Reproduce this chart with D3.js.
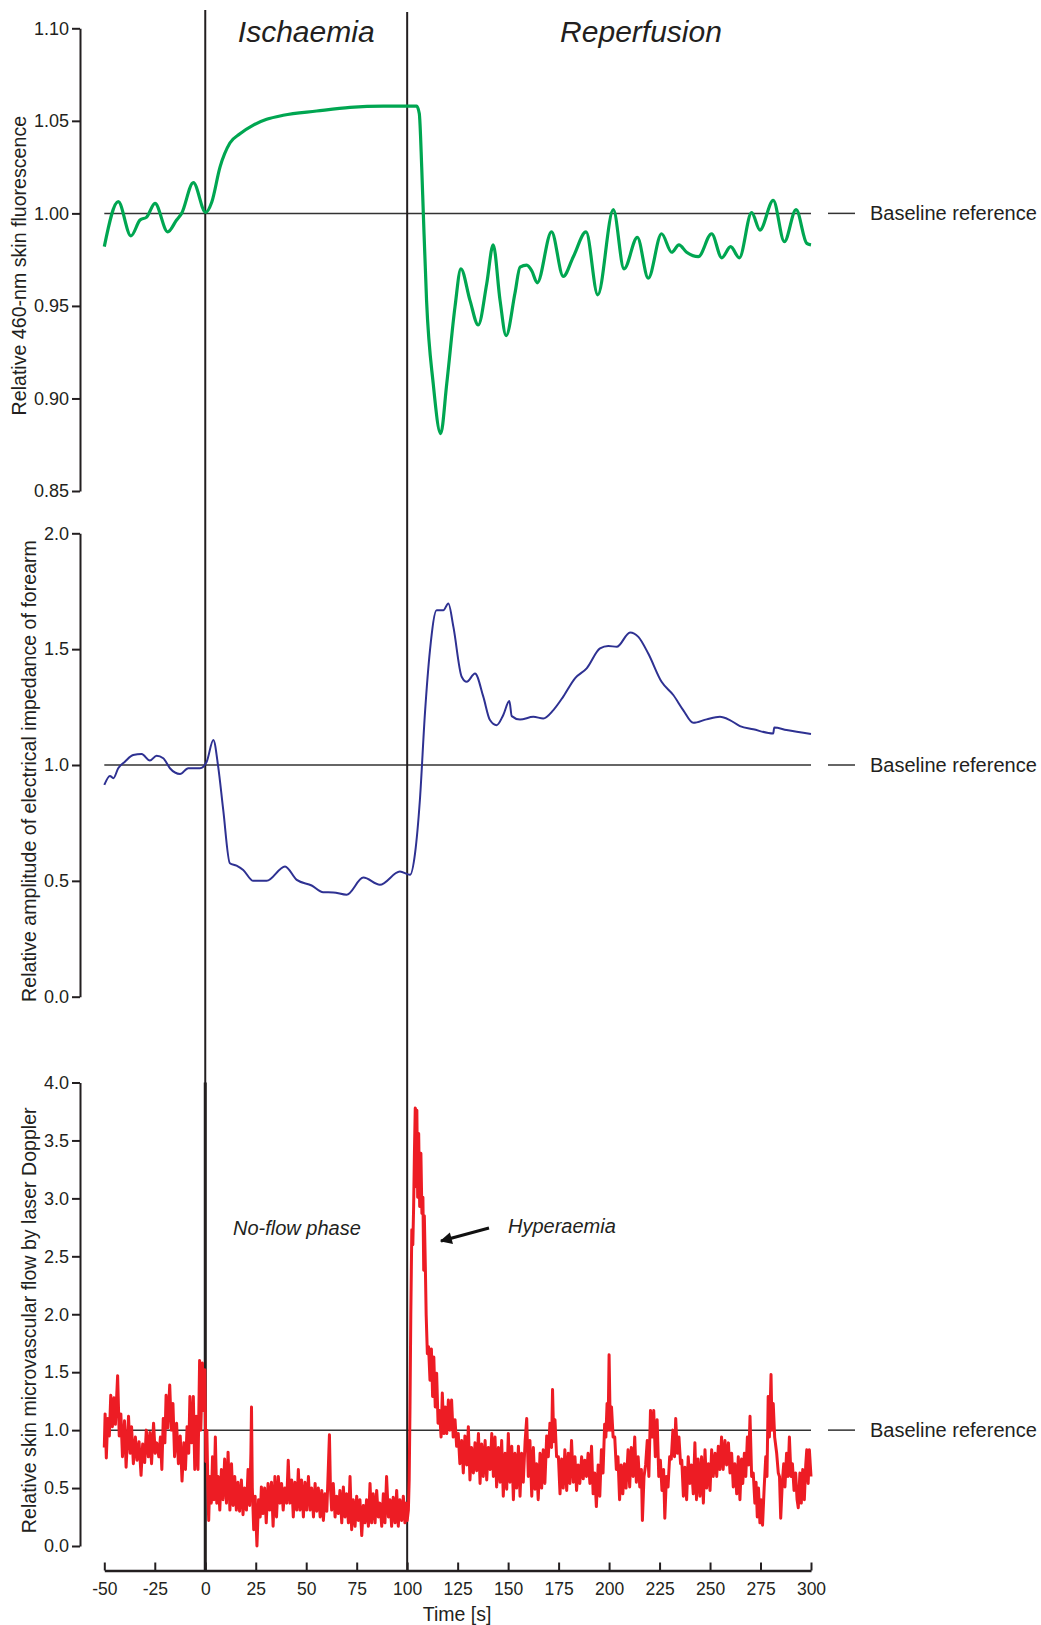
<!DOCTYPE html>
<html>
<head>
<meta charset="utf-8">
<script src="https://cdn.jsdelivr.net/npm/d3@7"></script>
<style>
  body { margin: 0; background: #fff; }
  svg text { font-family: "Liberation Sans", Arial, sans-serif; fill: #231f20; }
</style>
</head>
<body>
<div id="chart"></div>
<script>
// time axis
const timeTicks = [-50, -25, 0, 25, 50, 75, 100, 125, 150, 175, 200, 225, 250, 275, 300];
const phaseBounds = [0, 100];
const phaseNames = ["Ischaemia", "Reperfusion"];

// panel 1 - 460 nm fluorescence (green)
const fluoTicks = [0.85, 0.90, 0.95, 1.00, 1.05, 1.10];
const fluoTime = [-50, -43.1, -36.8, -32.3, -29, -24.9, -18.6, -14.2, -11.7, -5.9, 0.2, 3.2, 7.3, 12.2, 17.2, 23.8, 30.4, 38.6, 55.2, 71.7, 88.2, 104.7, 106, 107.2, 108, 109.6, 112.9, 116.6, 119.6, 123.7, 126.6, 131.1, 135.2, 139.4, 142.6, 146, 149, 153.4, 155.9, 159.2, 161.7, 164.4, 171.5, 177.3, 182.3, 188.6, 194.4, 202.1, 207.4, 214, 219.4, 226, 231, 234.6, 238.4, 244.2, 250.8, 255.8, 260.2, 264.5, 270.6, 274.7, 281.3, 286.8, 292.6, 297.9, 300];
const fluoValue = [0.982, 1.0063, 0.9878, 0.9964, 0.998, 1.0054, 0.990, 0.9964, 1.0, 1.0166, 1.0005, 1.006, 1.025, 1.038, 1.043, 1.0477, 1.0508, 1.053, 1.0553, 1.0573, 1.058, 1.058, 1.054, 1.025, 1.0, 0.953, 0.908, 0.881, 0.908, 0.9496, 0.970, 0.953, 0.9397, 0.962, 0.983, 0.953, 0.934, 0.957, 0.971, 0.972, 0.969, 0.9625, 0.990, 0.966, 0.9766, 0.990, 0.956, 1.002, 0.970, 0.987, 0.965, 0.989, 0.979, 0.983, 0.979, 0.9766, 0.989, 0.976, 0.982, 0.976, 1.0004, 0.991, 1.007, 0.9847, 1.002, 0.9838, 0.983];

// panel 2 - electrical impedance (blue)
const impTicks = [0, 0.5, 1.0, 1.5, 2.0];
const impTime = [-50, -47.2, -45.5, -43.1, -39.8, -35.7, -31.5, -27.4, -24.1, -20.8, -17.5, -12.5, -8.4, -2.6, 0.7, 4, 6.4, 8.9, 12.2, 15.5, 18.8, 23.8, 30.4, 39.5, 45.3, 52.7, 58.4, 63.4, 70, 78.3, 86.5, 96.4, 101.4, 103.9, 106.3, 108.8, 111.3, 114.6, 117.9, 120.4, 122.9, 127, 129.5, 133.6, 137.7, 141, 144.3, 147.6, 150.6, 151.8, 155.9, 162.5, 167.4, 172.4, 177.3, 183.1, 188.9, 195.5, 199.6, 203.8, 210.4, 214.5, 219.4, 226, 231.8, 236.7, 241.7, 248.3, 254.9, 259.8, 264.8, 271.4, 281.3, 281.8, 287.9, 300];
const impValue = [0.914, 0.953, 0.943, 0.986, 1.014, 1.043, 1.047, 1.019, 1.040, 1.029, 0.986, 0.961, 0.986, 0.986, 1.014, 1.108, 0.993, 0.806, 0.576, 0.566, 0.547, 0.5, 0.5, 0.562, 0.504, 0.480, 0.451, 0.450, 0.440, 0.514, 0.483, 0.540, 0.526, 0.619, 0.849, 1.223, 1.496, 1.668, 1.668, 1.697, 1.596, 1.381, 1.359, 1.395, 1.295, 1.194, 1.172, 1.216, 1.276, 1.211, 1.196, 1.208, 1.201, 1.237, 1.295, 1.374, 1.417, 1.503, 1.514, 1.510, 1.572, 1.553, 1.481, 1.359, 1.302, 1.237, 1.182, 1.197, 1.208, 1.194, 1.168, 1.154, 1.136, 1.162, 1.151, 1.134];

// panel 3 - laser Doppler flow (red)
const flowTicks = [0, 0.5, 1.0, 1.5, 2.0, 2.5, 3.0, 3.5, 4.0];
const flowTime = [-50, -49.6, -49, -48.3, -47.5, -46.8, -46, -45.2, -44.5, -43.4, -42.6, -41.8, -41, -40, -39.2, -38, -37.2, -36.5, -35.6, -34.6, -33.8, -32.8, -31.8, -31, -30, -29.2, -28.2, -27.4, -26.6, -25.6, -24.8, -24, -23, -22.2, -21.5, -20.8, -20, -19.4, -18.6, -17.6, -16.8, -16, -15.2, -14.2, -13.3, -12.4, -11.5, -10.6, -9.8, -9, -8.2, -7.6, -6.8, -5.9, -5.2, -4.4, -3.6, -2.8, -2.2, -1.4, -0.8, -0.2, 0.3, 0.8, 1.3, 1.7, 2.3, 3.0, 3.6, 4.3, 5.0, 5.7, 6.4, 7.2, 8.0, 8.8, 9.6, 10.5, 11.3, 12.2, 13.0, 13.8, 14.6, 15.4, 16.2, 17.0, 17.9, 18.7, 19.5, 20.4, 21.2, 22.0, 22.6, 22.9, 23.3, 24.0, 24.7, 25.6, 26.4, 27.2, 27.8, 28.6, 29.4, 30.2, 31.1, 31.9, 32.8, 33.6, 34.5, 35.3, 36.2, 37.0, 37.8, 38.6, 39.4, 40.3, 41.1, 41.9, 42.8, 43.6, 44.4, 45.3, 46.1, 46.9, 47.7, 48.6, 49.4, 50.2, 51.1, 51.9, 52.7, 53.6, 54.4, 55.2, 56.0, 56.9, 57.7, 58.5, 59.3, 60.2, 61.0, 61.5, 62.0, 62.6, 63.4, 64.3, 65.1, 65.9, 66.7, 67.6, 68.4, 69.2, 70.0, 70.9, 71.7, 72.5, 73.3, 74.2, 75.0, 75.8, 76.6, 77.5, 78.3, 79.1, 79.9, 80.8, 81.6, 82.4, 83.2, 84.1, 84.9, 85.7, 86.5, 87.4, 88.2, 89.0, 89.8, 90.7, 91.5, 92.3, 93.1, 94.0, 94.8, 95.6, 96.4, 97.3, 98.1, 98.9, 99.5, 100.0, 100.6, 101.0, 101.4, 101.8, 102.3, 102.8, 103.2, 103.6, 104.0, 104.4, 104.8, 105.2, 105.7, 106.2, 106.8, 107.3, 107.8, 108.2, 108.5, 109.0, 109.4, 110.0, 110.6, 111.3, 112.0, 112.6, 113.2, 113.9, 114.6, 115.3, 116.0, 116.8, 117.4, 118.2, 118.9, 119.6, 120.4, 121.2, 122.0, 122.8, 123.7, 124.5, 125.3, 126.1, 127.0, 127.8, 128.6, 129.5, 130.3, 131.1, 131.9, 132.8, 133.6, 134.4, 135.3, 136.1, 136.9, 137.7, 138.6, 139.4, 140.2, 141.1, 141.9, 142.7, 143.5, 144.3, 145.2, 146.0, 146.8, 147.6, 148.5, 149.3, 150.1, 150.9, 151.8, 152.6, 153.4, 154.2, 155.1, 155.9, 156.7, 157.5, 158.4, 159.2, 160.0, 160.8, 161.7, 162.5, 163.3, 164.1, 164.9, 165.8, 166.6, 167.4, 168.2, 169.1, 169.9, 170.7, 171.5, 172.0, 172.6, 173.2, 174.0, 174.9, 175.7, 176.5, 177.3, 178.1, 179.0, 179.8, 180.6, 181.4, 182.3, 183.1, 183.9, 184.7, 185.5, 186.4, 187.2, 188.0, 188.8, 189.6, 190.5, 191.3, 192.1, 192.9, 193.7, 194.6, 195.4, 196.2, 197.0, 197.8, 198.4, 199.0, 199.5, 200.0, 200.6, 201.2, 202.0, 202.8, 203.6, 204.4, 205.2, 206.0, 206.8, 207.6, 208.4, 209.4, 210.2, 211.0, 211.9, 212.7, 213.5, 214.4, 215.2, 216.0, 216.5, 217.3, 218.1, 218.9, 219.7, 220.5, 221.3, 222.1, 222.9, 223.8, 224.6, 225.4, 226.2, 227.0, 227.6, 228.4, 229.2, 230.0, 230.8, 231.6, 232.4, 233.0, 233.8, 234.6, 235.4, 236.0, 236.8, 237.6, 238.4, 239.2, 240.0, 240.8, 241.7, 242.5, 243.3, 244.1, 245.0, 245.8, 246.7, 247.5, 248.3, 249.2, 250.0, 250.8, 251.6, 252.5, 253.3, 254.1, 254.9, 255.7, 256.5, 257.4, 258.2, 259.1, 259.9, 260.7, 261.5, 262.3, 263.2, 264.0, 264.8, 265.6, 266.2, 267.0, 267.7, 268.5, 269.1, 269.8, 270.6, 271.4, 272.2, 272.8, 273.4, 274.0, 274.7, 275.3, 276.0, 276.8, 277.6, 278.2, 278.8, 279.4, 280.2, 280.7, 281.3, 282.0, 283.0, 283.8, 284.4, 285.0, 285.8, 286.5, 287.1, 287.9, 288.6, 289.3, 290.1, 290.8, 291.6, 292.4, 293.1, 293.7, 294.5, 295.2, 295.9, 296.7, 297.4, 297.9, 298.6, 299.2, 300.0];
const flowValue = [0.85, 1.14, 0.76, 1.10, 0.95, 1.30, 1.03, 1.28, 1.05, 1.47, 0.95, 1.14, 0.77, 1.08, 0.68, 1.12, 0.80, 1.03, 0.71, 0.94, 0.74, 0.90, 0.61, 0.88, 0.72, 1.0, 0.77, 0.98, 0.71, 1.06, 0.80, 0.89, 0.77, 0.94, 0.66, 1.10, 0.89, 1.30, 1.02, 1.39, 1.00, 1.23, 0.77, 1.06, 0.71, 0.95, 0.56, 0.89, 0.66, 1.03, 0.80, 1.29, 0.89, 1.29, 0.66, 1.12, 0.66, 1.60, 1.0, 1.58, 1.17, 1.52, 0.73, 1.0, 0.50, 0.22, 0.60, 0.37, 0.77, 0.40, 0.94, 0.37, 0.60, 0.31, 0.66, 0.40, 0.75, 0.37, 0.81, 0.31, 0.71, 0.35, 0.60, 0.31, 0.55, 0.30, 0.57, 0.27, 0.50, 0.31, 0.66, 0.35, 0.80, 1.20, 0.50, 0.14, 0.43, 0.00, 0.40, 0.25, 0.51, 0.28, 0.50, 0.20, 0.54, 0.31, 0.55, 0.17, 0.60, 0.25, 0.60, 0.37, 0.54, 0.31, 0.50, 0.37, 0.74, 0.37, 0.57, 0.25, 0.55, 0.31, 0.66, 0.31, 0.57, 0.25, 0.55, 0.31, 0.60, 0.31, 0.50, 0.25, 0.54, 0.30, 0.50, 0.25, 0.48, 0.22, 0.45, 0.30, 0.70, 0.96, 0.50, 0.31, 0.54, 0.25, 0.43, 0.28, 0.48, 0.20, 0.51, 0.25, 0.45, 0.20, 0.60, 0.14, 0.40, 0.17, 0.43, 0.22, 0.40, 0.09, 0.35, 0.20, 0.40, 0.17, 0.54, 0.20, 0.45, 0.20, 0.48, 0.25, 0.37, 0.17, 0.45, 0.20, 0.60, 0.25, 0.40, 0.17, 0.42, 0.20, 0.48, 0.17, 0.40, 0.22, 0.43, 0.20, 0.37, 0.22, 0.31, 0.57, 1.20, 2.00, 2.73, 2.60, 2.93, 3.40, 3.78, 3.10, 3.76, 3.01, 3.56, 2.93, 3.39, 2.87, 3.01, 2.38, 2.85, 2.41, 2.00, 1.66, 1.72, 1.43, 1.70, 1.29, 1.63, 1.20, 1.49, 1.06, 1.17, 0.94, 1.32, 0.97, 1.20, 0.97, 1.26, 1.00, 1.26, 0.94, 1.09, 0.86, 0.97, 0.71, 0.91, 0.63, 0.95, 0.70, 1.03, 0.57, 0.85, 0.63, 0.89, 0.65, 0.97, 0.54, 0.88, 0.60, 0.91, 0.57, 0.85, 0.66, 0.97, 0.60, 0.94, 0.51, 0.85, 0.55, 0.91, 0.43, 0.80, 0.49, 0.97, 0.55, 0.86, 0.40, 0.80, 0.50, 0.86, 0.43, 0.80, 0.55, 0.90, 1.10, 0.60, 0.91, 0.43, 0.85, 0.49, 0.71, 0.40, 0.80, 0.50, 0.83, 0.54, 0.95, 0.77, 1.06, 0.85, 1.35, 0.90, 1.09, 0.77, 0.77, 0.45, 0.75, 0.50, 0.83, 0.48, 0.80, 0.54, 0.91, 0.55, 0.77, 0.48, 0.70, 0.54, 0.77, 0.58, 0.74, 0.60, 0.80, 0.54, 0.86, 0.45, 0.63, 0.34, 0.70, 0.43, 0.83, 0.63, 1.05, 0.94, 1.23, 1.00, 1.65, 1.00, 1.20, 0.94, 0.94, 0.66, 0.77, 0.40, 0.70, 0.45, 0.71, 0.50, 0.83, 0.51, 0.85, 0.60, 0.94, 0.55, 0.77, 0.51, 0.66, 0.22, 0.60, 0.70, 0.91, 0.60, 1.17, 0.94, 1.17, 0.77, 1.09, 0.60, 0.74, 0.48, 0.66, 0.24, 0.60, 0.51, 0.77, 0.75, 1.00, 0.77, 1.10, 0.80, 0.94, 0.71, 0.74, 0.43, 0.68, 0.40, 0.77, 0.54, 0.70, 0.45, 0.89, 0.40, 0.75, 0.43, 0.77, 0.37, 0.83, 0.50, 0.71, 0.48, 0.83, 0.60, 0.80, 0.60, 0.86, 0.66, 0.94, 0.66, 0.91, 0.70, 0.89, 0.63, 0.80, 0.51, 0.71, 0.45, 0.77, 0.40, 0.75, 0.54, 0.80, 0.60, 0.94, 0.70, 1.12, 0.60, 0.63, 0.37, 0.55, 0.25, 0.50, 0.20, 0.40, 0.18, 0.50, 0.77, 0.60, 1.29, 0.94, 1.48, 1.00, 1.23, 0.94, 0.80, 0.63, 0.60, 0.24, 0.55, 0.71, 0.51, 0.80, 0.60, 0.94, 0.60, 0.71, 0.48, 0.63, 0.40, 0.33, 0.63, 0.37, 0.66, 0.40, 0.70, 0.83, 0.54, 0.83, 0.60];

const baselineValue = 1.0;

const width = 1041, height = 1625;
const svg = d3.select("#chart").append("svg")
    .attr("width", width)
    .attr("height", height);

const ink = "#231f20";

const x = d3.scaleLinear().domain([-50, 300]).range([104.3, 811]);

// the three stacked panels
const panels = [
    { ticks: fluoTicks, fmt: d => d.toFixed(2), range: [491, 28.3], time: fluoTime, value: fluoValue,
      color: "#00a651", width: 3.2, curve: d3.curveMonotoneX,
      label: "Relative 460-nm skin fluorescence", labelX: 19 },
    { ticks: impTicks, fmt: d => d.toFixed(1), range: [996.7, 533.3], time: impTime, value: impValue,
      color: "#2e3192", width: 2, curve: d3.curveMonotoneX,
      label: "Relative amplitude of electrical impedance of forearm", labelX: 29 },
    { ticks: flowTicks, fmt: d => d.toFixed(1), range: [1546, 1082.5], time: flowTime, value: flowValue,
      color: "#ed1c24", width: 3, curve: d3.curveLinear,
      label: "Relative skin microvascular flow by laser Doppler", labelX: 29 }
];

const axisBottomY = 1570.5;

panels.forEach(p => {
    const y = d3.scaleLinear().domain(d3.extent(p.ticks)).range(p.range);
    p.y = y;

    const ax = svg.append("g")
        .attr("transform", "translate(80,0)")
        .call(d3.axisLeft(y).tickValues(p.ticks).tickFormat(p.fmt).tickSize(8).tickSizeOuter(0).tickPadding(3));
    ax.select(".domain").attr("stroke", ink).attr("stroke-width", 2);
    ax.selectAll(".tick line").attr("stroke", ink).attr("stroke-width", 2);
    ax.selectAll(".tick text").attr("font-size", 18).attr("fill", ink)
        .style("font-family", "'Liberation Sans', Arial, sans-serif");

    // axis title
    const cy = (p.range[0] + p.range[1]) / 2;
    svg.append("text")
        .attr("transform", `translate(${p.labelX},${cy + 6}) rotate(-90)`)
        .attr("text-anchor", "middle")
        .attr("dy", "0.35em")
        .attr("font-size", 19.6)
        .text(p.label);

    // baseline reference
    svg.append("line")
        .attr("x1", x(-50)).attr("x2", x(300))
        .attr("y1", y(baselineValue)).attr("y2", y(baselineValue))
        .attr("stroke", "#333").attr("stroke-width", 1.5);
    svg.append("line")
        .attr("x1", 828).attr("x2", 855)
        .attr("y1", y(baselineValue)).attr("y2", y(baselineValue))
        .attr("stroke", "#333").attr("stroke-width", 1.5);
    svg.append("text")
        .attr("x", 870).attr("y", y(baselineValue))
        .attr("dy", "0.35em")
        .attr("font-size", 20)
        .text("Baseline reference");
});

// phase boundaries
phaseBounds.forEach((b, i) => {
    svg.append("line")
        .attr("x1", x(b)).attr("x2", x(b))
        .attr("y1", 10 + i * 2).attr("y2", axisBottomY)
        .attr("stroke", ink).attr("stroke-width", 2);
});
// heavier segment at cuff inflation in the flow panel
svg.append("line")
    .attr("x1", x(0)).attr("x2", x(0))
    .attr("y1", panels[2].y(4)).attr("y2", axisBottomY)
    .attr("stroke", ink).attr("stroke-width", 3);

// traces
panels.forEach(p => {
    const pts = p.time.map((t, i) => [t, p.value[i]]);
    svg.append("path")
        .datum(pts)
        .attr("fill", "none")
        .attr("stroke", p.color)
        .attr("stroke-width", p.width)
        .attr("stroke-linejoin", "round")
        .attr("d", d3.line().x(d => x(d[0])).y(d => p.y(d[1])).curve(p.curve));
});

// time axis
const xa = svg.append("g")
    .attr("transform", `translate(0,${axisBottomY})`)
    .call(d3.axisBottom(x).tickValues(timeTicks).tickFormat(d => String(d))
        .tickSize(-8).tickSizeOuter(0).tickPadding(12));
xa.select(".domain").attr("stroke", ink).attr("stroke-width", 2.5);
xa.selectAll(".tick line").attr("stroke", ink).attr("stroke-width", 2);
xa.selectAll(".tick text").attr("font-size", 17.5).attr("fill", ink)
    .style("font-family", "'Liberation Sans', Arial, sans-serif");

svg.append("text")
    .attr("x", 457).attr("y", 1621)
    .attr("text-anchor", "middle")
    .attr("font-size", 19.5)
    .text("Time [s]");

// phase titles
const titleX = [(x(0) + x(100)) / 2, 641];
phaseNames.forEach((n, i) => {
    svg.append("text")
        .attr("x", titleX[i]).attr("y", 42)
        .attr("text-anchor", "middle")
        .attr("font-size", 30)
        .attr("font-style", "italic")
        .text(n);
});

// annotations in flow panel
svg.append("text")
    .attr("x", 233).attr("y", 1235)
    .attr("font-size", 20).attr("font-style", "italic")
    .text("No-flow phase");
svg.append("text")
    .attr("x", 508).attr("y", 1233)
    .attr("font-size", 20).attr("font-style", "italic")
    .text("Hyperaemia");

svg.append("defs").append("marker")
    .attr("id", "head")
    .attr("viewBox", "0 0 10 10")
    .attr("refX", 9).attr("refY", 5)
    .attr("markerWidth", 5).attr("markerHeight", 4)
    .attr("markerUnits", "strokeWidth")
    .attr("orient", "auto")
    .append("path").attr("d", "M0,0L10,5L0,10z").attr("fill", "#111");
svg.append("line")
    .attr("x1", 489).attr("y1", 1228)
    .attr("x2", 441).attr("y2", 1241)
    .attr("stroke", "#111").attr("stroke-width", 3)
    .attr("marker-end", "url(#head)");
</script>
</body>
</html>
